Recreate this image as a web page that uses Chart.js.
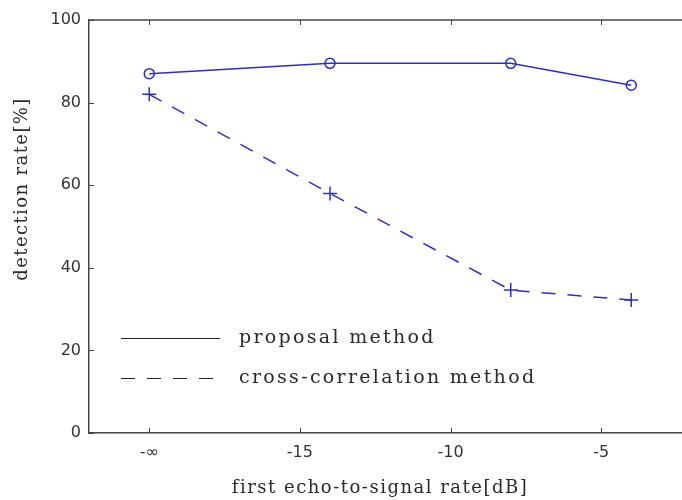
<!DOCTYPE html>
<html>
<head>
<meta charset="utf-8">
<script src="https://cdn.jsdelivr.net/npm/chart.js@4/dist/chart.umd.min.js"></script>
<style>
html,body{margin:0;padding:0;background:#fff;overflow:hidden;}
#wrap{width:700px;height:500px;}
</style>
</head>
<body>
<div id="wrap"><canvas id="c" width="700" height="500"></canvas></div>
<script>
// x positions: -20 stands for "-∞"
const xValues = [-20, -14, -8, -4];
const proposalValues = [87, 89.5, 89.5, 84.2];
const crossCorrValues = [82, 58, 34.6, 32.2];
const xTickValues = [-20, -15, -10, -5];
const xTickLabels = ['-\u221E', '-15', '-10', '-5'];
const yTickValues = [0, 20, 40, 60, 80, 100];
const seriesLabels = ['proposal method', 'cross-correlation method'];
const xTitle = 'first echo-to-signal rate[dB]';
const yTitle = 'detection rate[%]';

const blue = 'rgb(45,45,205)';
const axisColor = '#444';
const textColor = '#2a2a2a';
const serif = '"DejaVu Serif", "Liberation Serif", serif';
const sans = '"DejaVu Sans", "Liberation Sans", sans-serif';

const toPts = (vals) => xValues.map((x, i) => ({x: x, y: vals[i]}));

const innerTicks = {
  id: 'innerTicks',
  afterDraw(chart) {
    const {ctx, chartArea: a, scales: {x, y}} = chart;
    ctx.save();
    ctx.strokeStyle = axisColor;
    ctx.lineWidth = 1;
    xTickValues.forEach(v => {
      const px = Math.round(x.getPixelForValue(v)) + 0.5;
      ctx.beginPath(); ctx.moveTo(px, a.bottom); ctx.lineTo(px, a.bottom - 5); ctx.stroke();
      ctx.beginPath(); ctx.moveTo(px, a.top); ctx.lineTo(px, a.top + 5); ctx.stroke();
    });
    yTickValues.forEach(v => {
      const py = Math.round(y.getPixelForValue(v)) + 0.5;
      ctx.beginPath(); ctx.moveTo(a.left, py); ctx.lineTo(a.left + 5, py); ctx.stroke();
    });
    ctx.lineWidth = 1.5;
    ctx.beginPath(); ctx.moveTo(a.left, a.top); ctx.lineTo(a.right, a.top); ctx.stroke();
    ctx.restore();
  }
};

const textLayer = {
  id: 'textLayer',
  afterDraw(chart) {
    const {ctx, chartArea: a} = chart;
    ctx.save();
    // legend
    const x0 = a.left + 32, x1 = a.left + 131, tx = a.left + 150;
    const rows = [a.top + 318, a.top + 358];
    chart.data.datasets.forEach((ds, i) => {
      const yy = rows[i] + 0.5;
      ctx.strokeStyle = '#222';
      ctx.lineWidth = 1.2;
      ctx.setLineDash(ds.borderDash || []);
      ctx.beginPath(); ctx.moveTo(x0, yy); ctx.lineTo(x1, yy); ctx.stroke();
      ctx.setLineDash([]);
    });
    ctx.fillStyle = textColor;
    ctx.font = '19px ' + serif;
    ctx.letterSpacing = '2.3px';
    ctx.textBaseline = 'middle';
    ctx.textAlign = 'left';
    chart.data.datasets.forEach((ds, i) => ctx.fillText(ds.label, tx, rows[i]));
    // axis titles
    ctx.font = '18px ' + serif;
    ctx.letterSpacing = '1.5px';
    ctx.textAlign = 'center';
    ctx.fillText(xTitle, 380, 488);
    ctx.letterSpacing = '1.4px';
    ctx.translate(22, 189);
    ctx.rotate(-Math.PI / 2);
    ctx.fillText(yTitle, 0, 0);
    ctx.restore();
  }
};

new Chart(document.getElementById('c'), {
  type: 'line',
  data: {
    datasets: [
      {
        label: seriesLabels[0],
        data: toPts(proposalValues),
        borderColor: blue, backgroundColor: 'rgba(0,0,0,0)',
        borderWidth: 1.5,
        pointStyle: 'circle', pointRadius: 5, pointBorderWidth: 1.5,
        pointBorderColor: blue, pointBackgroundColor: 'rgba(255,255,255,0)'
      },
      {
        label: seriesLabels[1],
        data: toPts(crossCorrValues),
        borderColor: blue, backgroundColor: 'rgba(0,0,0,0)',
        borderWidth: 1.5, borderDash: [14, 12],
        pointStyle: 'cross', pointRadius: 7, pointBorderWidth: 1.5,
        pointBorderColor: blue
      }
    ]
  },
  options: {
    responsive: false,
    animation: false,
    layout: {padding: {top: 20, right: 7, left: 0, bottom: 0}},
    plugins: {legend: {display: false}, tooltip: {enabled: false}},
    scales: {
      x: {
        type: 'linear', min: -22, max: -2,
        afterBuildTicks: (s) => { s.ticks = xTickValues.map(v => ({value: v})); },
        afterFit: (s) => { s.height = 67; },
        ticks: {
          callback: (v) => { const i = xTickValues.indexOf(v); return i >= 0 ? xTickLabels[i] : ''; },
          color: '#333', font: {family: sans, size: 16}, padding: 10, maxRotation: 0, autoSkip: false
        },
        grid: {display: false, drawTicks: false},
        border: {display: true, color: axisColor, width: 1.5},
        title: {display: false}
      },
      y: {
        type: 'linear', min: 0, max: 100,
        afterBuildTicks: (s) => { s.ticks = yTickValues.map(v => ({value: v})); },
        afterFit: (s) => { s.width = 89; },
        ticks: {color: '#333', font: {family: sans, size: 16}, padding: 8},
        grid: {display: false, drawTicks: false},
        border: {display: true, color: axisColor, width: 1.5},
        title: {display: false}
      }
    }
  },
  plugins: [innerTicks, textLayer]
});
</script>
</body>
</html>
